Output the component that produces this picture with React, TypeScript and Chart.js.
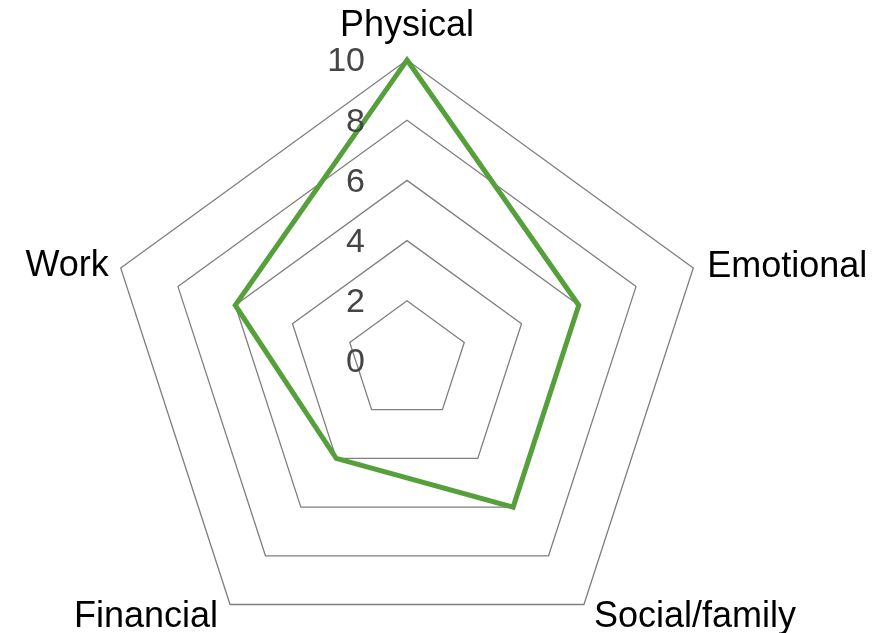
import React, { useEffect, useRef } from "react";
import { Chart, registerables } from "chart.js";

Chart.register(...registerables);

const categories = ["Physical", "Emotional", "Social/family", "Financial", "Work"];
const scores = [10, 6, 6, 4, 6];
const tickValues = [0, 2, 4, 6, 8, 10];
const tickLabels = ["0", "2", "4", "6", "8", "10"];

const FONT = "'Liberation Sans', Arial, sans-serif";

const labelPlugin = {
  id: "customLabels",
  afterDraw(chart: any) {
    const scale = chart.scales.r;
    const ctx = chart.ctx;
    ctx.save();
    // tick labels, right-aligned to the left of the vertical axis
    ctx.font = `34px ${FONT}`;
    ctx.fillStyle = "#454545";
    ctx.textAlign = "right";
    ctx.textBaseline = "middle";
    tickValues.forEach((v, i) => {
      const d = scale.getDistanceFromCenterForValue(v);
      ctx.fillText(tickLabels[i], scale.xCenter - 42, scale.yCenter - d + 2);
    });
    // point labels
    ctx.font = `36px ${FONT}`;
    ctx.fillStyle = "#000000";
    ctx.textBaseline = "alphabetic";
    const offsets: [string, number, number][] = [
      ["center", 0, -24],
      ["left", 14, 9],
      ["left", 10, 22],
      ["right", -12, 22],
      ["right", -12, 8],
    ];
    categories.forEach((label, i) => {
      const p = scale.getPointPosition(i, scale.drawingArea);
      const [align, dx, dy] = offsets[i];
      ctx.textAlign = align;
      ctx.fillText(label, p.x + dx, p.y + dy);
    });
    ctx.restore();
  },
};

export default function App() {
  const canvasRef = useRef<HTMLCanvasElement>(null);

  useEffect(() => {
    const canvas = canvasRef.current;
    if (!canvas) return;
    const chart = new Chart(canvas, {
      type: "radar",
      data: {
        labels: categories,
        datasets: [
          {
            data: scores,
            borderColor: "#55a03a",
            backgroundColor: "transparent",
            borderWidth: 5,
            fill: false,
            pointRadius: 0,
            pointHoverRadius: 0,
            tension: 0,
            clip: false,
          } as any,
        ],
      },
      options: {
        responsive: false,
        animation: false,
        devicePixelRatio: 1,
        layout: { padding: { left: 106, right: 182, top: 60, bottom: 38 } },
        plugins: {
          legend: { display: false },
          tooltip: { enabled: false },
          title: { display: false },
        },
        scales: {
          r: {
            min: 0,
            max: 10,
            beginAtZero: true,
            ticks: { stepSize: 2, display: false },
            pointLabels: { display: false },
            angleLines: { display: false },
            grid: { color: "#7f7f7f", lineWidth: 1.3 },
          },
        },
      },
      plugins: [labelPlugin],
    });
    return () => chart.destroy();
  }, []);

  return (
    <div
      style={{
        position: "fixed",
        left: 0,
        top: 0,
        width: 890,
        height: 633,
        overflow: "hidden",
        background: "#ffffff",
      }}
    >
      <canvas ref={canvasRef} width={890} height={700} style={{ display: "block" }} />
    </div>
  );
}
